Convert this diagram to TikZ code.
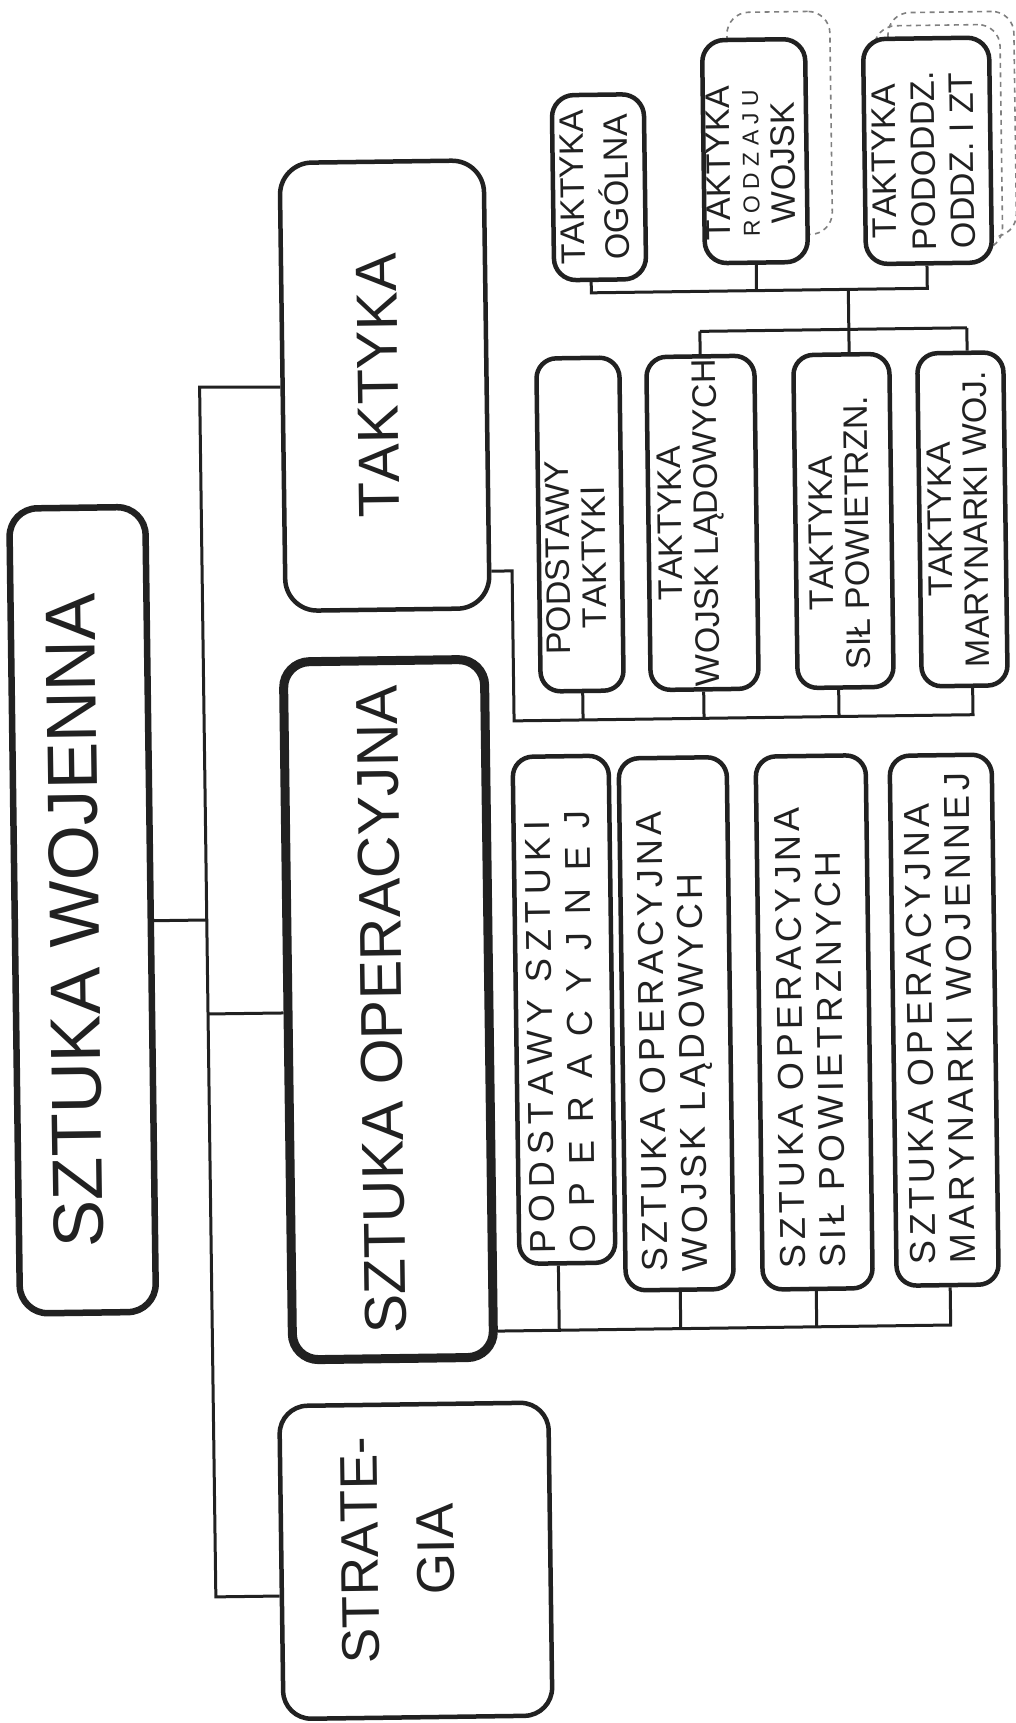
\documentclass[tikz,border=0pt]{standalone}
\usepackage{fontspec}
\usepackage{graphicx}
\setmainfont{Liberation Sans}[Kerning=Off]
\newfontfamily\lsfont[LetterSpace=12,Kerning=Off]{Liberation Sans}
\definecolor{ink}{gray}{0.13}
% rotated, centred lines: #1 shift towards page bottom, #2 shift towards page left
\newcommand{\rt}[3]{\rotatebox{90}{\kern-#1\raisebox{#2}[\height][\depth]{\begin{tabular}{@{}c@{}}#3\end{tabular}}\kern#1}}
% rotated, left-aligned lines in a box of length #1
\newcommand{\rl}[3]{\rotatebox{90}{\raisebox{#2}[\height][\depth]{\makebox[#1][l]{\begin{tabular}{@{}l@{}}#3\end{tabular}}}}}
\tikzset{
  ln/.style={draw=ink, line width=3pt},
  bx/.style={draw=ink, fill=white, rounded corners=20pt, line width=4.5pt, inner sep=0pt, text=ink},
  small/.style={font=\fontsize{34}{36}\selectfont},
  sochild/.style={font=\lsfont\fontsize{36}{40}\selectfont},
  shd/.style={draw=black!50, line width=1.6pt, dash pattern=on 5pt off 4.5pt, rounded corners=22pt, inner sep=0pt}
}
\begin{document}
\begin{tikzpicture}[x=1pt,y=-1pt]
\useasboundingbox (0,0) rectangle (1016,1723);
\fill[white] (0,0) rectangle (1016,1723);
\begin{scope}[rotate around={0.77:(508,861)}, transform shape]
% dashed shadows
\node[shd, minimum width=103pt, minimum height=223pt] (tkFs) at (789.5,127) {};
\node[shd, minimum width=126pt, minimum height=225pt] (tkGs2) at (962,130.5) {};
\node[shd, minimum width=126pt, minimum height=225pt] (tkGs1) at (948,143.5) {};
% main boxes
\node[bx, line width=6.5pt, rounded corners=28pt, minimum width=136pt, minimum height=805pt,
      font=\fontsize{71}{80}\selectfont] (sw) at (82,904.5) {\rt{10pt}{0pt}{SZTUKA WOJENNA}};
\node[bx, rounded corners=32pt, minimum width=204pt, minimum height=448pt,
      font=\fontsize{58}{66}\selectfont] (tk) at (391,384) {\rt{0pt}{0pt}{TAKTYKA}};
\node[bx, line width=9pt, rounded corners=26pt, minimum width=201pt, minimum height=698pt,
      font=\fontsize{59}{66}\selectfont] (so) at (386.5,1008) {\rt{0pt}{0pt}{SZTUKA OPERACYJNA}};
\node[bx, rounded corners=28pt, minimum width=269pt, minimum height=313pt,
      font=\fontsize{53}{76}\selectfont] (st) at (406.5,1559.5) {\rt{-11pt}{15pt}{STRATE-\\GIA}};
% taktyka, lower row
\node[bx, small, minimum width=83pt, minimum height=333pt] (tkA) at (584.5,525.5) {\rt{33pt}{0pt}{PODSTAWY\\TAKTYKI}};
\node[bx, small, minimum width=108pt, minimum height=333pt] (tkB) at (707,525.5) {\rt{0pt}{10pt}{TAKTYKA\\WOJSK LĄDOWYCH}};
\node[bx, small, minimum width=96pt, minimum height=333pt] (tkC) at (848,525.5) {\rt{12pt}{0pt}{TAKTYKA\\SIŁ POWIETRZN.}};
\node[bx, small, minimum width=86pt, minimum height=333pt] (tkD) at (967,525.5) {\rt{0pt}{0pt}{TAKTYKA\\MARYNARKI WOJ.}};
% taktyka, upper row
\node[bx, small, rounded corners=22pt, minimum width=92pt, minimum height=185pt] (tkE) at (608,188.5) {\rt{0pt}{0pt}{TAKTYKA\\[4pt]OGÓLNA}};
\node[bx, small, rounded corners=22pt, minimum width=103pt, minimum height=223pt] (tkF) at (764.5,154.5)
   {\rt{12pt}{0pt}{TAKTYKA\\[-7pt]{\fontsize{23}{28}\selectfont R O D Z A J U}\\WOJSK}};
\node[bx, small, rounded corners=22pt, minimum width=126pt, minimum height=225pt] (tkG) at (937,156.5)
   {\rt{10pt}{0pt}{TAKTYKA\\[3pt]PODODDZ.\\[3pt]ODDZ. I ZT}};
% sztuka operacyjna children
\node[bx, sochild, minimum width=96pt, minimum height=507pt] (soA) at (562,1010.5)
   {\rl{487pt}{0pt}{{\addfontfeature{LetterSpace=19}PODSTAWY SZTUKI}\\O\kern18pt P\kern18pt E\kern18pt R\kern18pt A\kern18pt C\kern18pt Y\kern18pt J\kern18pt N\kern18pt E\kern18pt J}};
\node[bx, sochild, minimum width=108pt, minimum height=532pt] (soB) at (674,1026)
   {\rl{496pt}{0pt}{SZTUKA OPERACYJNA\\WOJSK LĄDOWYCH}};
\node[bx, sochild, minimum width=110pt, minimum height=533pt] (soC) at (812,1026.5)
   {\rl{491pt}{0pt}{SZTUKA OPERACYJNA\\SIŁ POWIETRZNYCH}};
\node[bx, sochild, minimum width=102pt, minimum height=530pt] (soD) at (942,1026)
   {\rl{488pt}{0pt}{SZTUKA OPERACYJNA\\MARYNARKI WOJENNEJ}};
% junctions
\coordinate (jT) at (206,383);
\coordinate (jW) at (206,916);
\coordinate (jO) at (206,1010);
\coordinate (jS) at (206,1593);
\coordinate (tR1) at (516,571);
\coordinate (tR2) at (516,721);
\coordinate (tR3) at (975,721);
\coordinate (tbA) at (585,721);
\coordinate (tbB) at (706,721);
\coordinate (tbC) at (841,721);
\coordinate (uL) at (599,294);
\coordinate (uF) at (764,294);
\coordinate (uM) at (856,294);
\coordinate (uR) at (935,294);
\coordinate (lL) at (707,334);
\coordinate (lM) at (856,334);
\coordinate (lR) at (974,334);
\coordinate (sA) at (553,1331);
\coordinate (sB) at (674.5,1331);
\coordinate (sC) at (810.5,1331);
\coordinate (sR) at (944.5,1331);
% connectors
\draw[ln] (tk.west) -- (jT) -- (jS) -- (st.west |- jS);
\draw[ln] (sw.east |- jW) -- (jW);
\draw[ln] (jO) -- (so.west |- jO);
\draw[ln] (tk.east |- tR1) -- (tR1) -- (tR2) -- (tR3) -- (tkD.south -| tR3);
\draw[ln] (tbA) -- (tkA.south -| tbA);
\draw[ln] (tbB) -- (tkB.south -| tbB);
\draw[ln] (tbC) -- (tkC.south -| tbC);
\draw[ln] (tkE.south -| uL) -- (uL) -- (uR) -- (tkG.south -| uR);
\draw[ln] (tkF.south) -- (uF);
\draw[ln] (uM) -- (lM);
\draw[ln] (lL) -- (lR);
\draw[ln] (lL) -- (tkB.north -| lL);
\draw[ln] (lM) -- (tkC.north -| lM);
\draw[ln] (lR) -- (tkD.north -| lR);
\draw[ln] (so.east |- sA) -- (sR) -- (soD.south -| sR);
\draw[ln] (sA) -- (soA.south -| sA);
\draw[ln] (sB) -- (soB.south -| sB);
\draw[ln] (sC) -- (soC.south -| sC);
\end{scope}
\end{tikzpicture}
\end{document}
